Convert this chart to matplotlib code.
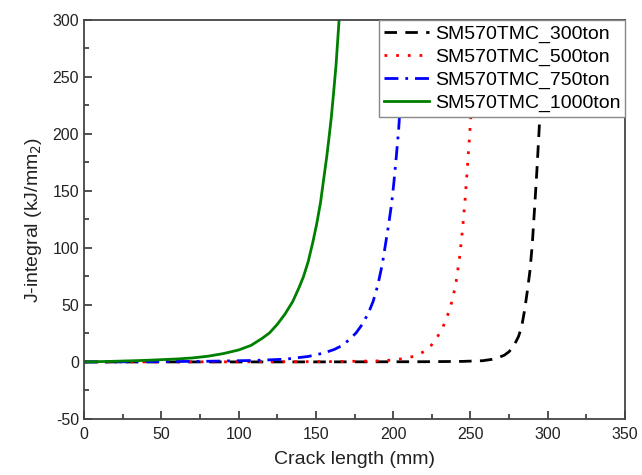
import matplotlib
matplotlib.use("Agg")
import matplotlib.pyplot as plt
from matplotlib.ticker import MultipleLocator

# values
labels = ["SM570TMC_300ton", "SM570TMC_500ton", "SM570TMC_750ton", "SM570TMC_1000ton"]

black_x = [0, 150, 220, 245, 258, 264, 269, 272, 275, 278, 281, 283, 285, 287,
           288.5, 290, 291.5, 293, 294.5, 296, 297.5]
black_J = [0, 0.05, 0.2, 0.5, 1.1, 2.3, 4.3, 6, 9, 14, 22, 30, 45, 64,
           80, 103, 135, 168, 205, 250, 300]

red_x = [0, 100, 160, 190, 200, 208, 215, 220, 224, 228, 232, 235, 238, 240.5,
         243, 245, 246.5, 248, 249.5, 251, 252.3, 253.5]
red_J = [0, 0.1, 0.3, 0.9, 1.7, 3.2, 5.5, 9.2, 13.5, 20.5, 30, 40, 53, 68,
         92, 118, 142, 170, 200, 230, 265, 300]

blue_x = [0, 40, 80, 110, 130, 145, 155, 162, 167, 172, 176, 180, 184, 187, 190,
          193, 195, 197, 199, 200.5, 202, 203.5, 205, 206.3, 207.5]
blue_J = [0, 0.2, 0.6, 1.3, 2.4, 4.8, 7.8, 11, 14.5, 20, 25.5, 33, 43, 53, 67,
          86, 103, 120, 139, 158, 180, 203, 235, 265, 300]

green_x = [0, 20, 40, 60, 70, 80, 90, 100, 108, 115, 120, 125, 130, 135, 139, 142,
           145, 148, 150.5, 153, 155, 157, 158.5, 160, 161.5, 163, 164, 165]
green_J = [0, 0.6, 1.4, 2.6, 3.5, 5.0, 7.3, 10.5, 14.5, 20.5, 25.5, 33, 42, 53, 65, 75,
           88, 105, 121, 140, 160, 180, 197, 215, 237, 260, 280, 300]

plt.rcParams['font.family'] = ['Liberation Sans', 'DejaVu Sans']
plt.rcParams['axes.unicode_minus'] = False

fig = plt.figure(figsize=(6.42, 4.75), dpi=100)
ax = fig.add_axes([0.131, 0.118, 0.8425, 0.840])

lw = 2.0
ax.plot(black_x, black_J, color='black', lw=lw, dashes=(4.5, 3), label=labels[0])
ax.plot(red_x, red_J, color='red', lw=lw, dashes=(1, 3.2), label=labels[1])
ax.plot(blue_x, blue_J, color='blue', lw=lw, dashes=(5, 2.5, 1, 2.5), label=labels[2])
ax.plot(green_x, green_J, color='#008000', lw=lw, label=labels[3])

ax.set_xlim(0, 350)
ax.set_ylim(-50, 300)
ax.xaxis.set_major_locator(MultipleLocator(50))
ax.xaxis.set_minor_locator(MultipleLocator(25))
ax.yaxis.set_major_locator(MultipleLocator(50))
ax.yaxis.set_minor_locator(MultipleLocator(25))
ax.tick_params(which='both', direction='in', top=False, right=False,
               color='#333333', width=1.2, labelsize=11.5, labelcolor='#222222')
ax.tick_params(which='major', length=6)
ax.tick_params(which='minor', length=3.5)
ax.tick_params(axis='x', pad=6)
for s in ax.spines.values():
    s.set_color('#444444')
    s.set_linewidth(1.3)

ax.set_xlabel('Crack length (mm)', fontsize=14, color='#222222', labelpad=6)
ax.set_ylabel('J-integral (kJ/mm$_2$)', fontsize=14, color='#222222', labelpad=6)

leg = ax.legend(loc='upper right', borderaxespad=0, fontsize=14, handlelength=2.3,
                handletextpad=0.3, labelspacing=0.28, borderpad=0.25, fancybox=False,
                framealpha=1, edgecolor='#888888')
leg.get_frame().set_linewidth(1.0)

fig.savefig('out.png', dpi=100)
